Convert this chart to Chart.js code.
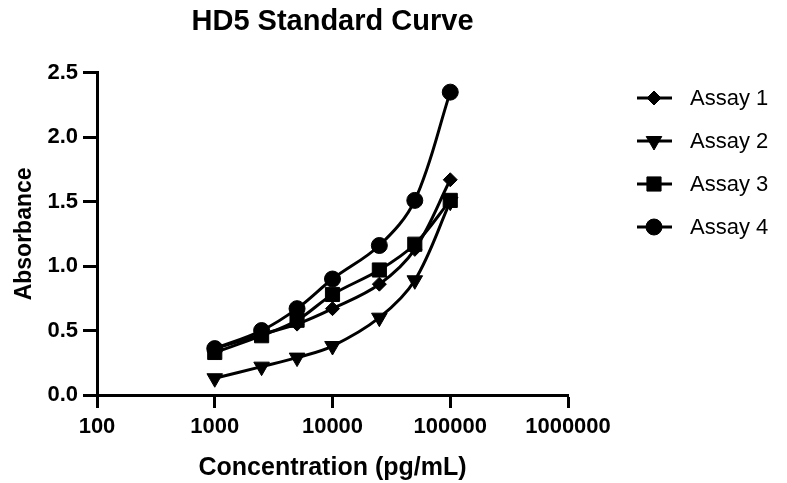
<!DOCTYPE html>
<html>
<head>
<meta charset="utf-8">
<title>HD5 Standard Curve</title>
<script src="https://cdn.jsdelivr.net/npm/chart.js@4"></script>
<style>
  html, body { margin: 0; padding: 0; background: #fff; }
  #wrap { width: 787px; height: 483px; position: relative; }
</style>
</head>
<body>
<div id="wrap"><canvas id="curve"></canvas></div>
<script>
/* HD5 standard curve — absorbance vs concentration, log x */

const conc   = [1000, 2500, 5000, 10000, 25000, 50000, 100000];
const assay1 = [0.36, 0.47, 0.55, 0.67, 0.86, 1.13, 1.67];
const assay2 = [0.13, 0.22, 0.29, 0.38, 0.60, 0.89, 1.50];
const assay3 = [0.33, 0.46, 0.58, 0.78, 0.97, 1.17, 1.51];
const assay4 = [0.36, 0.50, 0.67, 0.90, 1.16, 1.51, 2.35];
const xTicks = [100, 1000, 10000, 100000, 1000000];
const yTicks = [0, 0.5, 1.0, 1.5, 2.0, 2.5];
const labels = ['Assay 1', 'Assay 2', 'Assay 3', 'Assay 4'];

const FONT = 'Arial, "Liberation Sans", sans-serif';

const markers = [
  { style: 'rectRot',  r: 7,  rot: 0   },
  { style: 'triangle', r: 9,  rot: 180 },
  { style: 'rect',     r: 10, rot: 0   },
  { style: 'circle',   r: 8,  rot: 0   },
];

function mkSet(i, ys, order) {
  const m = markers[i];
  return {
    label: labels[i],
    data: conc.map((x, k) => ({ x, y: ys[k] })),
    borderColor: '#000', backgroundColor: '#000', borderWidth: 3,
    pointStyle: m.style, pointRadius: m.r, pointRotation: m.rot,
    pointBorderWidth: 1, pointBackgroundColor: '#000', pointBorderColor: '#000',
    tension: 0.35, fill: false, order,
  };
}

// legend with a line through the marker, like the reference
const sideLegend = {
  id: 'sideLegend',
  afterDraw(chart) {
    const ctx = chart.ctx;
    ctx.save();
    ctx.fillStyle = '#000'; ctx.strokeStyle = '#000';
    labels.forEach((t, i) => {
      const y = 98 + i * 43, m = markers[i];
      ctx.lineWidth = 3;
      ctx.beginPath(); ctx.moveTo(637, y); ctx.lineTo(672, y); ctx.stroke();
      ctx.lineWidth = 1;
      Chart.helpers.drawPoint(ctx, { pointStyle: m.style, radius: m.r, rotation: m.rot, borderWidth: 1 }, 654, y);
      ctx.font = '22px ' + FONT;
      ctx.textBaseline = 'middle';
      ctx.fillText(t, 690, y + 1);
    });
    ctx.restore();
  },
};

const axisBits = {
  grid: { drawOnChartArea: false, drawTicks: true, tickLength: 13, tickWidth: 3, color: '#000' },
  border: { color: '#000', width: 3 },
};

new Chart(document.getElementById('curve'), {
  type: 'line',
  data: {
    datasets: [
      mkSet(0, assay1, 1),
      mkSet(1, assay2, 2),
      mkSet(2, assay3, 0),
      mkSet(3, assay4, 3),
    ],
  },
  options: {
    responsive: true, maintainAspectRatio: false, animation: false,
    layout: { padding: { left: 0, right: 219, top: 0, bottom: 0 } },
    plugins: {
      legend: { display: false },
      tooltip: { enabled: false },
      title: {
        display: true, text: 'HD5 Standard Curve', fullSize: false, color: '#000',
        font: { family: FONT, size: 29, weight: 'bold' },
        padding: { top: 5, bottom: 33 },
      },
    },
    scales: {
      x: {
        type: 'logarithmic', min: 100, max: 1000000,
        ...axisBits,
        afterBuildTicks: s => { s.ticks = xTicks.map(v => ({ value: v })); },
        afterFit: s => { s.height = 88; },
        ticks: {
          autoSkip: false, maxRotation: 0, color: '#000', padding: 6,
          font: { family: FONT, size: 22, weight: 'bold' },
          callback: v => String(v),
        },
        title: {
          display: true, text: 'Concentration (pg/mL)', color: '#000',
          font: { family: FONT, size: 25, weight: 'bold' },
          padding: { top: 6, bottom: 0 },
        },
      },
      y: {
        min: 0, max: 2.5,
        ...axisBits,
        grid: { ...axisBits.grid, tickLength: 14 },
        afterBuildTicks: s => { s.ticks = yTicks.map(v => ({ value: v })); },
        afterFit: s => { s.width = 97; },
        ticks: {
          color: '#000', padding: 5,
          font: { family: FONT, size: 22, weight: 'bold' },
          callback: v => v.toFixed(1),
        },
        title: {
          display: true, text: 'Absorbance', color: '#000',
          font: { family: FONT, size: 23, weight: 'bold' },
          padding: { top: 11, bottom: 0 },
        },
      },
    },
  },
  plugins: [sideLegend],
});
</script>
</body>
</html>
